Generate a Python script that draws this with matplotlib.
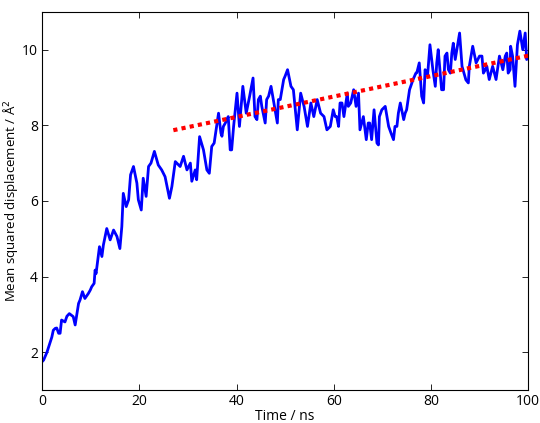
import matplotlib
matplotlib.use("Agg")
import matplotlib.pyplot as plt

# MSD trace (ns, A^2)
time_ns = [0.0, 0.3, 1.0, 1.5, 2.0, 2.3, 2.7, 3.0, 3.4, 3.7, 4.0, 4.7, 5.1, 5.6,
           6.4, 6.8, 7.5, 7.8, 8.3, 8.8, 9.5, 9.9, 10.2, 10.7, 10.9, 11.1, 11.6,
           11.8, 12.3, 12.6, 13.3, 14.0, 14.7, 15.4, 16.0, 16.4, 16.7, 17.3, 17.8,
           18.2, 18.8, 19.5, 19.8, 20.4, 20.8, 21.4, 21.9, 22.4, 23.1, 23.9, 24.6,
           25.3, 26.2, 26.7, 27.4, 28.4, 29.1, 29.8, 30.5, 30.8, 31.5, 31.8, 32.4,
           33.2, 33.9, 34.4, 34.9, 35.4, 36.3, 36.8, 37.0, 37.3, 37.7, 38.0, 38.3,
           38.7, 39.0, 39.4, 40.1, 40.6, 41.3, 42.0, 42.7, 43.4, 43.8, 44.2, 44.5,
           44.9, 45.2, 45.9, 46.2, 46.6, 47.1, 47.7, 48.4, 48.6, 49.0, 49.7, 50.0,
           50.5, 51.2, 51.7, 52.5, 53.2, 53.9, 54.6, 55.3, 55.9, 56.6, 57.3, 58.0,
           58.6, 59.3, 59.9, 60.3, 60.6, 61.0, 61.3, 61.7, 62.1, 62.8, 63.0, 63.5,
           64.1, 64.6, 65.1, 65.4, 66.1, 66.7, 67.1, 67.4, 67.8, 68.3, 68.9, 69.2,
           69.4, 69.9, 70.6, 71.3, 71.8, 72.3, 72.6, 73.0, 73.3, 73.7, 74.4, 74.7,
           75.0, 75.6, 76.3, 76.9, 77.1, 77.6, 78.1, 78.5, 78.8, 79.3, 79.8, 80.4,
           80.9, 81.2, 81.5, 82.2, 82.6, 82.9, 83.3, 83.6, 84.0, 84.3, 84.6, 85.0,
           85.5, 85.9, 86.4, 86.6, 87.2, 87.7, 87.9, 88.6, 89.3, 90.0, 90.5, 90.8,
           91.2, 91.5, 92.0, 92.7, 93.4, 94.1, 94.8, 95.3, 95.6, 95.9, 96.3, 96.4,
           96.8, 97.3, 97.8, 98.3, 98.9, 99.4, 99.7, 100.0]
msd = [1.75, 1.79, 2.0, 2.2, 2.4, 2.58, 2.63, 2.64, 2.5, 2.5, 2.85, 2.8, 2.95, 3.02,
       2.94, 2.72, 3.29, 3.38, 3.6, 3.42, 3.55, 3.64, 3.73, 3.82, 4.17, 4.08, 4.6,
       4.79, 4.53, 4.83, 5.27, 4.97, 5.23, 5.06, 4.74, 5.32, 6.2, 5.85, 6.03,
       6.69, 6.91, 6.47, 6.03, 5.76, 6.6, 6.12, 6.91, 7.0, 7.31, 6.95, 6.82,
       6.64, 6.07, 6.38, 7.04, 6.91, 7.18, 6.82, 7.0, 6.52, 6.82, 6.56, 7.7,
       7.35, 6.82, 6.73, 7.44, 7.53, 8.32, 7.79, 7.71, 7.97, 8.06, 8.15, 8.23,
       7.35, 7.35, 7.97, 8.85, 7.97, 9.03, 8.32, 8.77, 9.25, 8.23, 8.15, 8.68,
       8.77, 8.5, 8.06, 8.68, 8.77, 9.03, 8.59, 8.06, 8.68, 8.68, 9.21, 9.3,
       9.47, 9.03, 8.94, 7.88, 8.85, 8.5, 7.97, 8.59, 8.23, 8.68, 8.32, 8.23,
       7.88, 7.97, 8.41, 8.23, 8.23, 7.97, 8.59, 8.59, 8.23, 8.85, 8.5, 8.59,
       8.94, 8.5, 8.85, 7.88, 8.23, 7.62, 8.06, 8.06, 7.62, 8.41, 7.53, 7.48,
       8.23, 8.41, 8.5, 7.97, 7.79, 7.62, 7.97, 7.97, 8.32, 8.59, 8.15, 8.32,
       8.41, 8.94, 9.2, 9.38, 9.39, 9.65, 8.77, 8.59, 9.47, 9.3, 10.13, 9.47,
       9.03, 9.65, 10.0, 8.94, 8.94, 9.83, 9.91, 9.47, 9.38, 9.91, 10.17, 9.74,
       10.13, 10.44, 9.56, 9.47, 9.2, 9.12, 9.56, 10.09, 9.65, 9.83, 9.83, 9.38,
       9.47, 9.56, 9.21, 9.56, 9.21, 9.83, 9.47, 9.83, 9.91, 9.38, 9.47, 10.09,
       9.83, 9.03, 10.13, 10.49, 10.0, 10.44, 9.74, 9.8]

# linear fit (end points)
fit_t = [27.0, 100.0]
fit_msd = [7.87, 9.84]

plt.rcParams['font.family'] = ['Open Sans', 'DejaVu Sans']
plt.rcParams['font.size'] = 10

fig = plt.figure(figsize=(5.40, 4.23), dpi=100)
ax = fig.add_axes([0.078, 0.078, 0.9, 0.894])

ax.plot(time_ns, msd, color='#0000ff', lw=2.0)
ax.plot(fit_t, fit_msd, color='#ff0000', lw=3.0, ls=(0, (1.0, 1.0)),
        dash_capstyle='butt')

ax.set_xlim(0, 100)
ax.set_ylim(1, 11)
ax.set_xticks([0, 20, 40, 60, 80, 100])
ax.set_yticks([2, 4, 6, 8, 10])
ax.tick_params(direction='in', top=True, right=True, length=4, width=0.6, pad=3)
for s in ax.spines.values():
    s.set_linewidth(0.8)

ax.set_xlabel('Time / ns', labelpad=0)
ax.set_ylabel('Mean squared displacement / Å$^2$', fontsize=9.5)
ax.yaxis.set_label_coords(-0.046, 0.5)

fig.savefig('out.png', dpi=100)
